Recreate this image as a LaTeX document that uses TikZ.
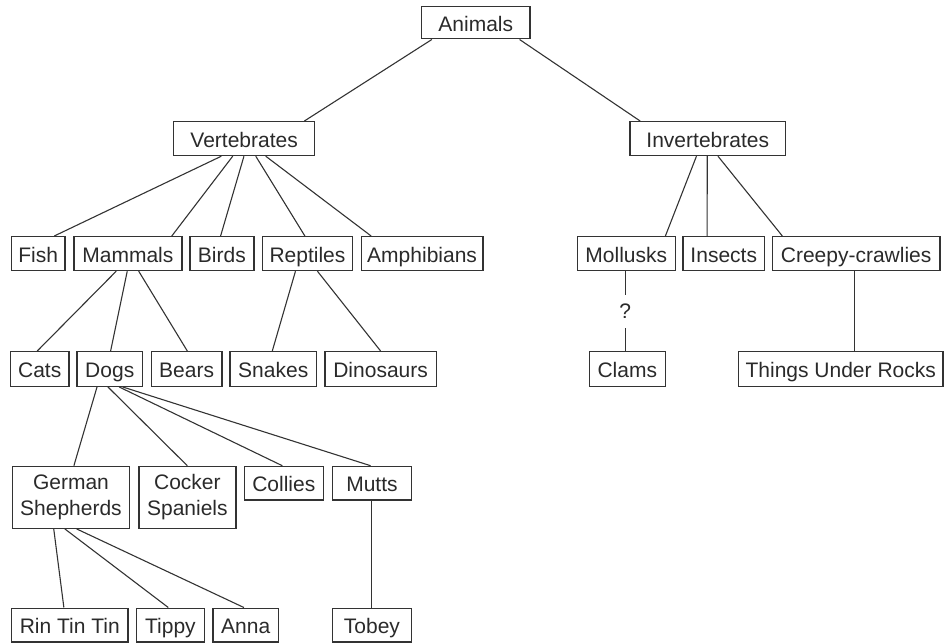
\documentclass[tikz,border=0pt]{standalone}
\usepackage{fontspec}
\setmainfont{Liberation Sans}
\usetikzlibrary{calc}
\definecolor{ink}{HTML}{2A2A2A}
\definecolor{edgeink}{HTML}{333333}
\tikzset{
  box/.style={draw=edgeink, line width=1.2pt, rectangle, inner sep=0pt, anchor=north west,
    text=ink, font=\fontsize{21}{26}\selectfont},
  one/.style={text height=18pt, text depth=0.6pt},
  two/.style={align=center},
  conn/.style={draw=edgeink, line width=1.1pt},
}
\newcommand\bx[7]{\node[box,#1, minimum width=#5pt, minimum height=#6pt] (#2) at (#3,#4) {#7};}
\newcommand\lnk[4]{\draw[conn] ($(#1.south west)!#2!(#1.south east)$) -- ($(#3.north west)!#4!(#3.north east)$);}
\begin{document}
\begin{tikzpicture}[x=1pt,y=-1pt]
\useasboundingbox (0,0) rectangle (949,642);
% row 1-2
\bx{one}{animals}{421}{5.7}{108.3}{32.6}{Animals}
\bx{one}{vert}{173}{121}{141}{34}{Vertebrates}
\bx{one}{invert}{629.3}{121}{155.7}{34}{Invertebrates}
% row 3
\bx{one}{fish}{10.7}{236}{53.6}{34}{Fish}
\bx{one}{mammals}{73.3}{236}{108}{34}{Mammals}
\bx{one}{birds}{189.3}{236}{64}{34}{Birds}
\bx{one}{reptiles}{261.7}{236}{90.3}{34}{Reptiles}
\bx{one}{amph}{360.7}{236}{121.6}{34}{Amphibians}
\bx{one}{moll}{576.7}{236}{98}{34}{Mollusks}
\bx{one}{insects}{682.3}{236}{81.7}{34}{Insects}
\bx{one}{creepy}{771.7}{236}{167.6}{34}{Creepy-crawlies}
% row 4
\bx{one}{cats}{10}{351}{58.3}{34.7}{Cats}
\bx{one}{dogs}{76.3}{351}{65.7}{34.7}{Dogs}
\bx{one}{bears}{150.7}{351}{70.6}{34.7}{Bears}
\bx{one}{snakes}{229.3}{351}{86.7}{34.7}{Snakes}
\bx{one}{dinos}{324.3}{351}{111.4}{34.7}{Dinosaurs}
\bx{one}{clams}{588.7}{351}{76}{34.7}{Clams}
\bx{one}{things}{738}{351}{204.3}{34.7}{Things Under Rocks}
% row 5
\bx{two}{german}{12}{465.7}{116.7}{62}{German\\Shepherds}
\bx{two}{cocker}{138.3}{465.7}{97}{62}{Cocker\\Spaniels}
\bx{one}{collies}{243.7}{465.7}{79}{33.6}{Collies}
\bx{one}{mutts}{331.7}{465.7}{79.3}{33.6}{Mutts}
% row 6
\bx{one}{rin}{11}{607.5}{116.3}{33.8}{Rin Tin Tin}
\bx{one}{tippy}{135.7}{607.5}{68.3}{33.8}{Tippy}
\bx{one}{anna}{212.3}{607.5}{65.7}{33.8}{Anna}
\bx{one}{tobey}{331.7}{607.5}{79.3}{33.8}{Tobey}
% connectors
\lnk{animals}{0.099}{vert}{0.924}
\lnk{animals}{0.90}{invert}{0.069}
\lnk{vert}{0.34}{fish}{0.795}
\lnk{vert}{0.42}{mammals}{0.902}
\lnk{vert}{0.499}{birds}{0.48}
\lnk{vert}{0.582}{reptiles}{0.472}
\lnk{vert}{0.652}{amph}{0.085}
\lnk{invert}{0.428}{moll}{0.894}
\lnk{invert}{0.497}{insects}{0.299}
\lnk{invert}{0.565}{creepy}{0.063}
\coordinate (mb) at ($(moll.south west)!0.49!(moll.south east)$);
\draw[conn] (mb) -- node[fill=white, inner sep=0pt, minimum height=33pt, minimum width=12pt, text=ink, font=\fontsize{21}{26}\selectfont] (q) {?} (mb |- clams.north);
\coordinate (cb) at ($(creepy.south west)!0.493!(creepy.south east)$);
\draw[conn] (cb) -- (cb |- things.north);
\lnk{mammals}{0.393}{cats}{0.458}
\lnk{mammals}{0.494}{dogs}{0.513}
\lnk{mammals}{0.599}{bears}{0.51}
\lnk{reptiles}{0.369}{snakes}{0.489}
\lnk{reptiles}{0.609}{dinos}{0.5}
\lnk{dogs}{0.31}{german}{0.525}
\lnk{dogs}{0.472}{cocker}{0.499}
\lnk{dogs}{0.639}{collies}{0.481}
\lnk{dogs}{0.691}{mutts}{0.483}
\coordinate (tb) at ($(mutts.south west)!0.496!(mutts.south east)$);
\draw[conn] (tb) -- (tb |- tobey.north);
\lnk{german}{0.354}{rin}{0.45}
\lnk{german}{0.448}{tippy}{0.469}
\lnk{german}{0.548}{anna}{0.472}
\end{tikzpicture}
\end{document}
